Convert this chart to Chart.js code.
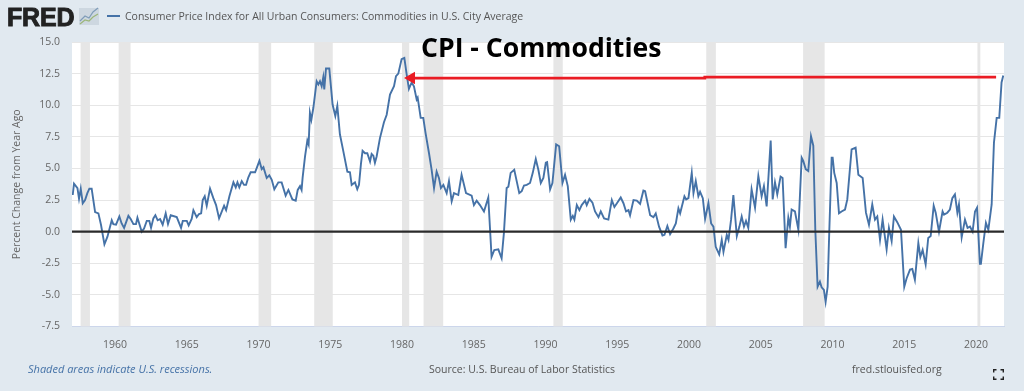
<!DOCTYPE html>
<html>
<head>
<meta charset="utf-8">
<script src="https://cdn.jsdelivr.net/npm/chart.js@4"></script>
<style>
  html, body { margin: 0; padding: 0; background: #e1e9f0; overflow: hidden; }
  #wrap { position: relative; width: 1024px; height: 391px; font-family: "Open Sans", sans-serif; }
  #chart { position: absolute; left: 0; top: 0; }
  .txt { position: absolute; white-space: nowrap; font-size: 10.5px; line-height: 14px; color: #555; }
  #logo { left: 7px; top: 2px; font-size: 25px; line-height: 30px; font-weight: 700; color: #222; letter-spacing: -0.2px; font-family: "Liberation Sans", sans-serif; -webkit-text-stroke: 0.9px #222; }
  #heading { left: 421px; top: 29px; font-size: 26.6px; line-height: 36px; font-weight: 700; color: #000; }
</style>
</head>
<body>
<div id="wrap">
  <canvas id="chart" width="1024" height="391"></canvas>
  <div class="txt" id="logo">FRED</div>
  <svg style="position:absolute;left:79px;top:7px" width="20" height="19">
    <rect x="0" y="1" width="20" height="17" fill="#cdd7e0"/>
    <polyline points="1,14 6,9 10,11 14,5 19,1" fill="none" stroke="#7f9cb8" stroke-width="1.2"/>
    <polyline points="1,17 6,13 10,14 14,10 19,7" fill="none" stroke="#9cb67a" stroke-width="1.2"/>
  </svg>
  <div style="position:absolute;left:107px;top:15px;width:13px;height:2px;background:#4572a7"></div>
  <div class="txt" id="legend" style="left:125px;top:9px;">Consumer Price Index for All Urban Consumers: Commodities in U.S. City Average</div>
  <div class="txt" id="heading">CPI - Commodities</div>
  <div class="txt" style="left:28px;top:362px;font-size:11px;font-style:italic;color:#4572a7;">Shaded areas indicate U.S. recessions.</div>
  <div class="txt" style="left:429px;top:362px;">Source: U.S. Bureau of Labor Statistics</div>
  <div class="txt" style="left:852px;top:362px;">fred.stlouisfed.org</div>
  <svg style="position:absolute;left:993px;top:369px" width="11" height="11">
    <path d="M0.7 3.5V0.7H3.5M7.5 0.7H10.3V3.5M10.3 7.5V10.3H7.5M3.5 10.3H0.7V7.5" fill="none" stroke="#222" stroke-width="1.4"/>
  </svg>
</div>
<script>
const seriesYears = [
  1957.05,1957.14,1957.38,1957.49,1957.61,1957.75,1957.91,1958.07,1958.21,1958.37,1958.61,1958.84,1959.02,1959.26,1959.47,1959.77,1959.88,
  1960.07,1960.3,1960.46,1960.63,1960.93,1961.09,1961.28,1961.46,1961.56,1961.86,1962.02,1962.21,1962.39,1962.51,1962.67,1962.81,1962.97,
  1963.14,1963.32,1963.53,1963.69,1963.88,1964.3,1964.6,1964.72,1965.0,1965.13,1965.34,1965.46,1965.69,1965.85,1966.0,1966.11,1966.25,1966.39,
  1966.62,1966.85,1967.04,1967.25,1967.6,1967.74,1967.97,1968.25,1968.41,1968.53,1968.66,1968.83,1968.99,1969.13,1969.29,1969.45,1969.76,
  1970.06,1970.22,1970.34,1970.57,1970.75,1970.92,1971.1,1971.38,1971.61,1971.89,1972.08,1972.36,1972.59,1972.73,1972.89,1973.0,
  1973.07,1973.24,1973.4,1973.49,1973.58,1973.68,1973.82,1974.05,1974.17,1974.28,1974.4,1974.51,1974.58,1974.7,1974.93,
  1975.16,1975.35,1975.49,1975.67,1975.91,1976.19,1976.37,1976.49,1976.72,1976.88,1977.0,1977.14,1977.25,1977.42,1977.58,1977.77,1977.88,
  1978.0,1978.11,1978.23,1978.46,1978.74,1978.93,1979.16,1979.44,1979.58,1979.74,1979.97,
  1980.16,1980.32,1980.48,1980.67,1980.83,1981.02,1981.09,1981.3,1981.48,1981.64,1981.88,1982.06,1982.23,1982.41,1982.57,1982.71,1982.88,
  1983.11,1983.27,1983.46,1983.62,1983.92,1984.15,1984.46,1984.85,1985.01,1985.2,1985.43,1985.71,1986.01,1986.24,1986.43,1986.71,1986.94,
  1987.1,1987.29,1987.41,1987.57,1987.82,1987.99,1988.17,
  1988.34,1988.5,1988.69,1988.92,1989.11,1989.32,1989.5,1989.67,1989.85,1990.02,1990.11,1990.32,1990.48,1990.74,1990.95,
  1991.18,1991.36,1991.55,1991.76,1991.9,1992.01,1992.18,1992.36,1992.52,1992.76,1992.87,1993.06,1993.27,1993.45,1993.69,1993.85,
  1994.08,1994.38,1994.62,1994.8,1995.01,1995.24,1995.43,1995.61,1995.78,1995.89,1996.13,1996.36,1996.59,1996.82,1996.94,
  1997.29,1997.52,1997.68,1997.91,1998.15,1998.29,1998.49,1998.68,1998.91,1999.08,1999.26,1999.38,1999.68,1999.8,1999.96,
  2000.19,2000.31,2000.47,2000.65,2000.77,2000.96,2001.12,2001.35,2001.54,2001.7,2001.86,2002.1,2002.28,2002.4,2002.63,2002.75,2002.93,
  2003.09,2003.33,2003.51,
  2003.67,2003.83,2003.97,2004.13,2004.36,2004.6,2004.83,2005.06,2005.22,2005.41,2005.69,2005.83,2005.99,2006.15,2006.38,2006.52,2006.73,2006.92,
  2007.03,2007.15,2007.38,2007.62,2007.85,2007.96,2008.13,2008.31,2008.5,2008.66,2008.8,2008.96,2009.12,2009.24,2009.4,2009.52,2009.66,2009.77,2009.94,
  2010.01,2010.12,2010.29,2010.45,2010.63,2010.87,2011.03,2011.33,2011.61,2011.8,2012.1,2012.33,2012.54,2012.77,2012.96,
  2013.12,2013.31,2013.49,2013.77,2013.93,2014.12,2014.28,2014.51,2014.77,2015.0,2015.16,2015.4,2015.56,2015.74,2015.98,
  2016.12,2016.28,2016.49,2016.67,2016.84,2017.05,2017.19,2017.42,2017.67,2017.77,2018.0,2018.18,2018.35,2018.53,2018.7,2018.81,
  2019.0,2019.23,2019.41,2019.58,2019.76,2019.93,2020.07,2020.27,2020.34,2020.51,2020.69,2020.86,2021.09,2021.25,2021.44,2021.62,2021.78,2021.9
];
const seriesValues = [
  2.9,3.8,3.45,2.6,3.4,2.25,2.5,3.05,3.4,3.4,1.55,1.45,0.55,-1.0,-0.4,0.9,0.6,
  0.55,1.2,0.65,0.3,1.25,1.0,0.6,0.6,1.1,0,0.25,0.85,0.85,0.3,1.05,1.3,0.9,
  1.0,0.55,1.45,0.6,1.3,1.15,0.3,0.85,0.85,0.5,1.0,1.7,1.15,1.4,1.45,2.5,2.8,2.05,
  3.4,2.65,2.1,1.05,2.05,1.7,2.8,3.9,3.5,3.9,3.5,4.0,3.7,3.7,4.3,4.7,4.7,
  5.6,4.95,5.1,4.25,4.45,4.1,3.35,3.9,3.9,2.85,3.3,2.55,2.45,3.3,3.6,3.3,
  4.25,5.95,7.2,6.9,9.4,8.85,9.8,11.9,11.65,11.9,11.5,12.2,11.25,12.9,12.9,
  10.05,9.15,9.95,7.7,6.35,4.75,4.7,3.7,3.9,3.35,3.7,5.4,6.4,6.2,6.2,5.55,6.15,
  6.0,5.45,5.95,7.4,8.65,9.25,10.85,11.5,12.3,12.5,13.65,
  13.75,12.45,11.3,11.8,11.5,10.45,10.6,9.0,9.0,7.8,6.2,4.9,3.45,4.75,4.25,3.45,3.7,
  3.05,4.0,2.4,3.05,2.9,4.5,3.05,2.85,2.1,2.45,2.1,1.6,2.7,-2.0,-1.45,-1.4,-2.1,
  -0.1,3.45,3.55,4.65,4.9,4.0,3.05,
  3.2,3.65,3.7,3.85,4.65,5.75,4.9,3.85,4.25,5.45,5.5,3.35,3.85,6.9,6.75,
  3.85,4.5,3.6,0.95,1.25,0.95,2.1,1.7,2.1,2.45,2.1,2.6,2.3,1.6,1.15,1.6,
  1.05,0.95,2.5,1.95,2.3,2.7,2.25,1.6,1.7,1.3,2.5,2.45,2.2,3.25,3.2,
  1.3,1.15,1.45,0.4,-0.3,-0.25,0.45,-0.2,0.25,0.65,1.85,1.45,2.8,2.55,2.65,
  4.65,3.05,4.0,2.8,3.15,2.65,1.0,2.25,0.65,0.4,-1.2,-1.8,-0.65,-1.6,-0.25,-0.65,0.95,
  2.9,-0.35,0.4,
  1.2,0.4,0.85,0.3,3.35,1.9,4.4,2.8,3.6,2.0,7.2,2.55,3.9,2.95,4.35,4.25,-1.3,1.1,
  0.4,1.75,1.6,0.15,5.85,5.6,4.95,4.8,7.55,6.8,0.15,-4.35,-3.95,-4.4,-4.6,-5.55,-4.35,-0.1,5.85,
  5.85,4.65,3.85,1.45,1.6,1.75,2.55,6.5,6.65,4.5,4.25,1.5,0.55,2.15,0.95,
  1.2,-0.65,0.95,-1.4,0.3,-0.75,1.2,0.75,0.15,-4.35,-3.7,-3.0,-2.95,-3.8,-0.9,
  -2.0,-1.45,-2.6,-0.5,-0.35,2.05,1.5,0,1.6,1.35,1.5,1.75,2.65,2.95,1.5,2.15,
  -0.45,0.95,0.3,0.4,0,1.6,1.9,-2.55,-2.55,-0.9,0.7,0.15,2.15,7.05,9.0,9.0,11.8,12.35
];
const recessionStarts = [1957.6, 1960.25, 1970.0, 1973.88, 1980.0, 1981.5, 1990.55, 2001.2, 2007.95, 2020.1];
const recessionEnds = [1958.25, 1961.08, 1970.88, 1975.17, 1980.5, 1982.87, 1991.2, 2001.87, 2009.45, 2020.3];
const xTickValues = [1960, 1965, 1970, 1975, 1980, 1985, 1990, 1995, 2000, 2005, 2010, 2015, 2020];
const zeroYears = [1957, 2021.95];
const zeroValues = [0, 0];
const arrowYears = [1980.65, 2001.1, 2001.1, 2021.4];
const arrowValues = [12.15, 12.15, 12.22, 12.22];

function toPoints(xs, ys) {
    return xs.map((x, i) => ({ x: x, y: ys[i] }));
}

// grey recession bands under the lines
const recessionBands = {
    id: "recessionBands",
    beforeDatasetsDraw(chart) {
        const { ctx, chartArea, scales } = chart;
        ctx.save();
        ctx.fillStyle = "#e6e6e6";
        recessionStarts.forEach((start, i) => {
            const x0 = scales.x.getPixelForValue(start);
            const x1 = scales.x.getPixelForValue(recessionEnds[i]);
            ctx.fillRect(x0, chartArea.top, x1 - x0, chartArea.bottom - chartArea.top);
        });
        ctx.restore();
    }
};

// white plot area, drawn before the grid
const plotBackground = {
    id: "plotBackground",
    beforeDraw(chart) {
        const { ctx, chartArea } = chart;
        ctx.save();
        ctx.fillStyle = "#ffffff";
        ctx.fillRect(chartArea.left, chartArea.top, chartArea.right - chartArea.left, chartArea.bottom - chartArea.top);
        ctx.restore();
    }
};

const tickFont = { family: "'Open Sans', sans-serif", size: 10.5 };

new Chart(document.getElementById("chart").getContext("2d"), {
    type: "scatter",
    data: {
        datasets: [
            {
                label: "Consumer Price Index for All Urban Consumers: Commodities in U.S. City Average",
                data: toPoints(seriesYears, seriesValues),
                showLine: true,
                borderColor: "#4572a7",
                borderWidth: 1.9,
                pointRadius: 0,
                tension: 0,
                order: 2
            },
            {
                label: "zero",
                data: toPoints(zeroYears, zeroValues),
                showLine: true,
                borderColor: "#2a2a2a",
                borderWidth: 2.4,
                pointRadius: 0,
                order: 1
            },
            {
                label: "arrow",
                data: toPoints(arrowYears, arrowValues),
                showLine: true,
                borderColor: "#ea1c24",
                borderWidth: 2.8,
                backgroundColor: "#ea1c24",
                pointBorderColor: "#ea1c24",
                pointRadius: [4.5, 0, 0, 0],
                pointStyle: "triangle",
                pointRotation: -90,
                order: 0
            }
        ]
    },
    options: {
        responsive: false,
        animation: false,
        events: [],
        layout: { padding: { top: 42, right: 20, left: 0, bottom: 0 } },
        plugins: { legend: { display: false }, tooltip: { enabled: false } },
        scales: {
            x: {
                type: "linear",
                min: 1957,
                max: 2021.95,
                afterFit: s => { s.height = 64.5; },
                afterBuildTicks: s => { s.ticks = xTickValues.map(v => ({ value: v })); },
                grid: { display: false, drawTicks: true },
                border: { color: "#ccd6eb", width: 1 },
                ticks: {
                    color: "#666666",
                    font: tickFont,
                    maxRotation: 0,
                    autoSkip: false,
                    padding: 4,
                    callback: v => String(v)
                }
            },
            y: {
                min: -7.5,
                max: 15,
                afterFit: s => { s.width = 72; },
                grid: { color: "#e6e6e6", drawTicks: false },
                border: { display: false },
                title: {
                    display: true,
                    text: "Percent Change from Year Ago",
                    color: "#666666",
                    font: { family: "'Open Sans', sans-serif", size: 10.5 },
                    padding: { top: 11, bottom: 0 }
                },
                ticks: {
                    stepSize: 2.5,
                    color: "#666666",
                    font: tickFont,
                    padding: 12,
                    callback: v => v.toFixed(1)
                }
            }
        }
    },
    plugins: [plotBackground, recessionBands]
});
</script>
</body>
</html>
